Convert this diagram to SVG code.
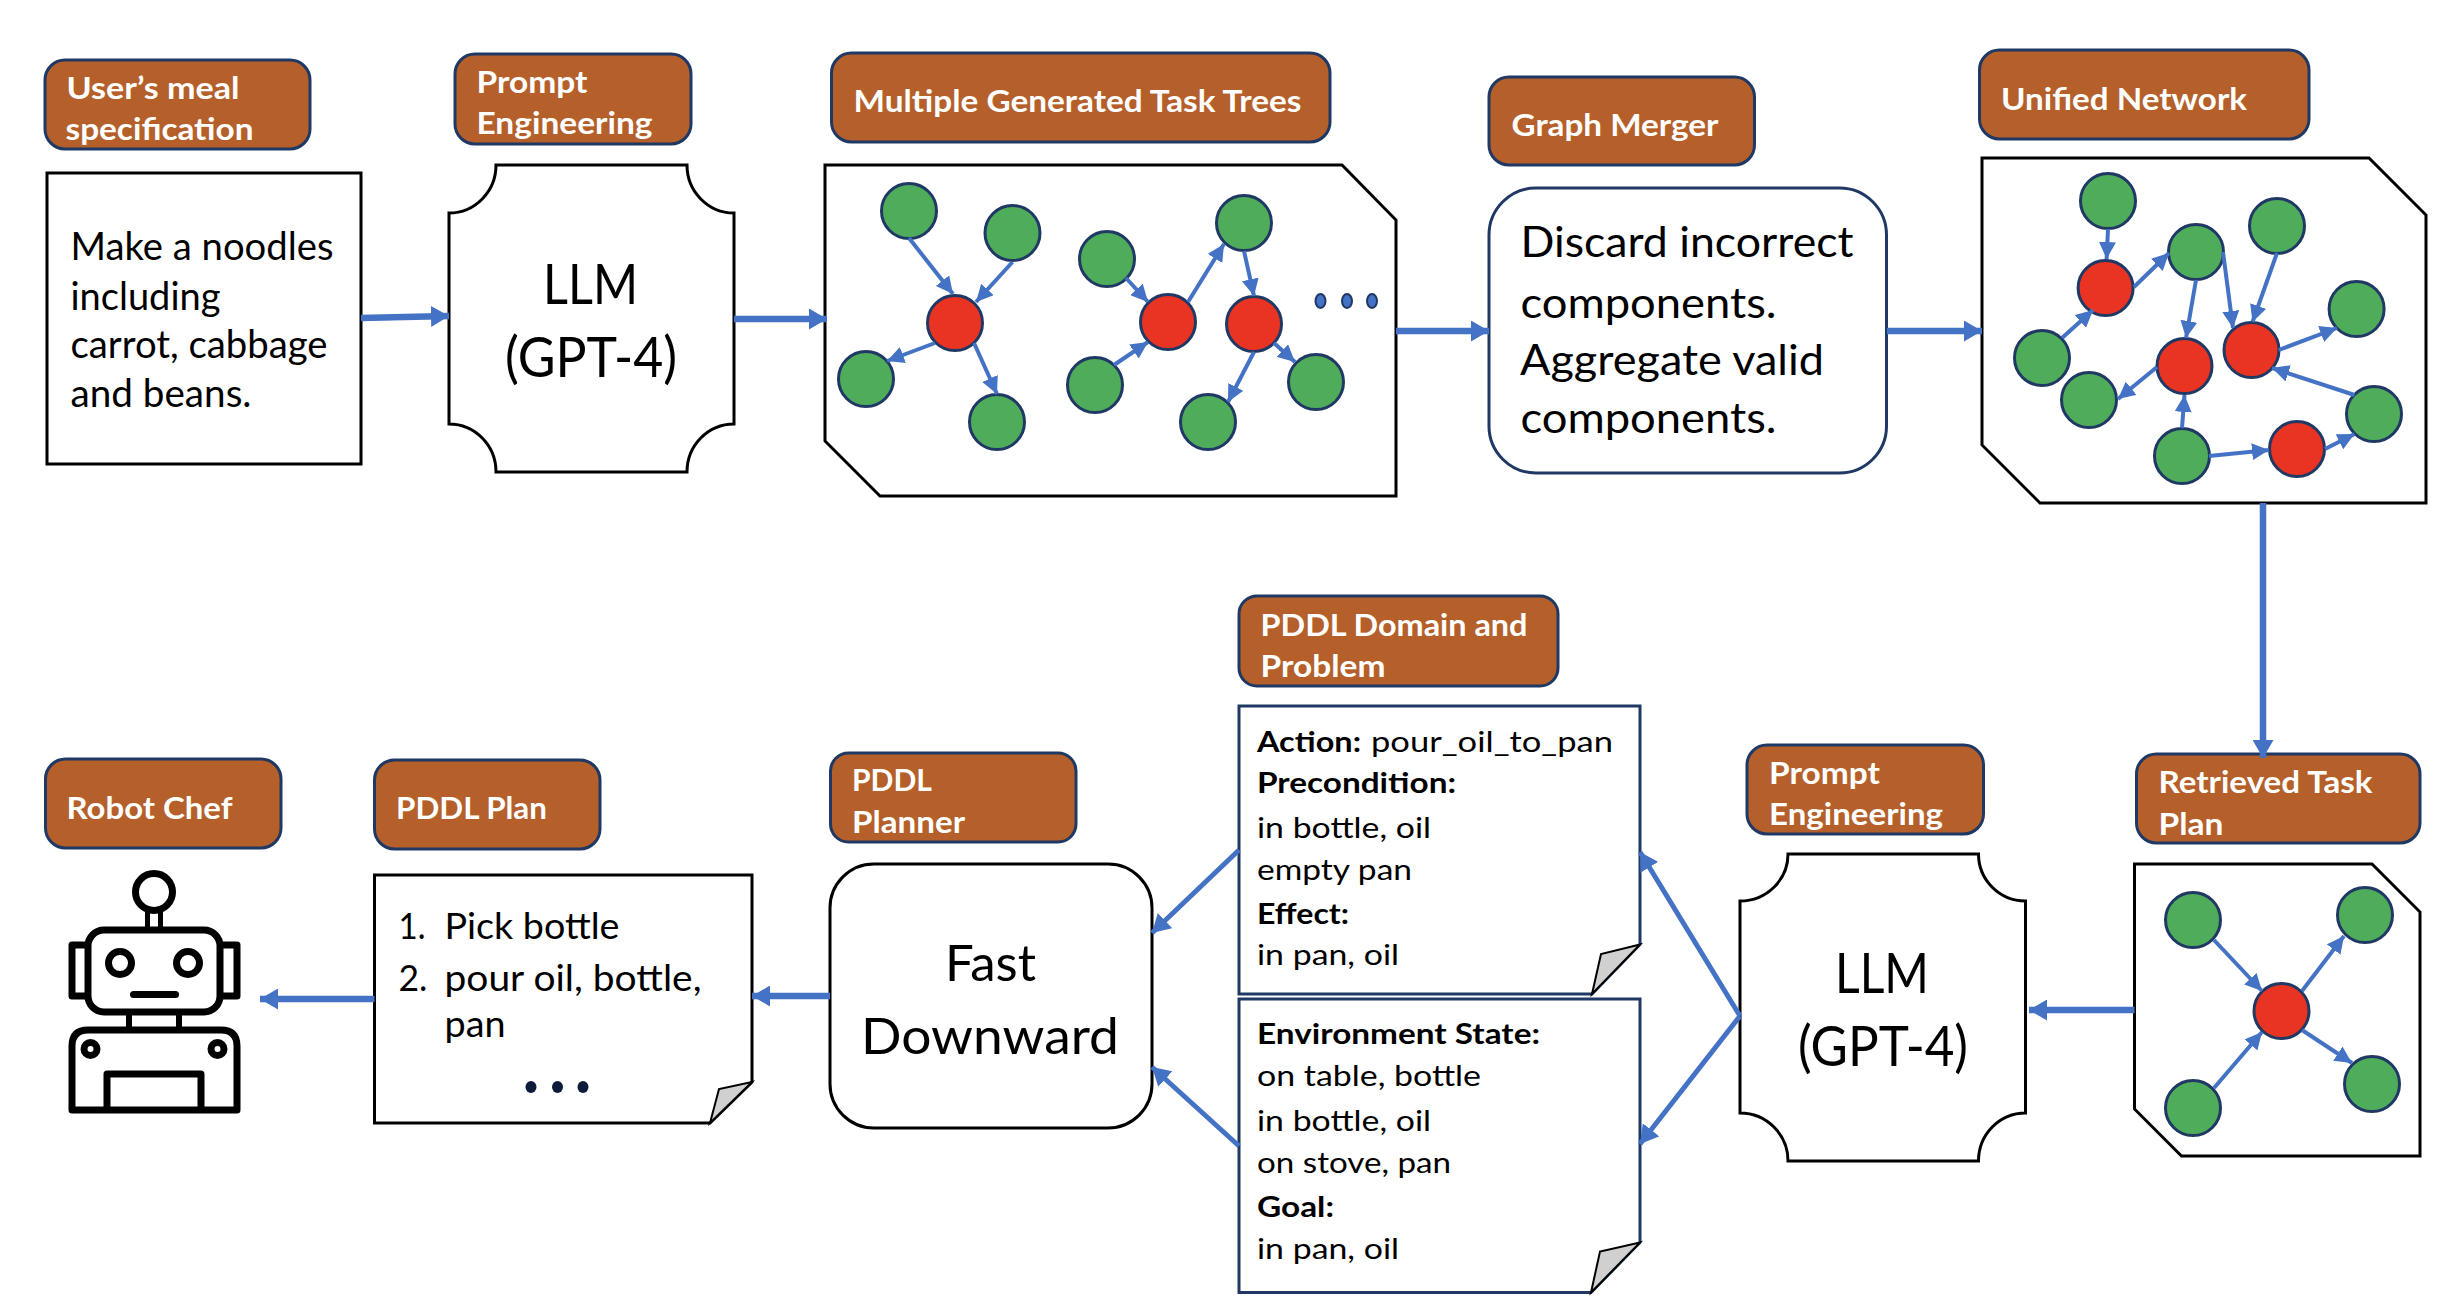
<svg xmlns="http://www.w3.org/2000/svg" width="2456" height="1312" viewBox="0 0 2456 1312">
<style>
text{font-family:"Lato","Carlito","Noto Sans",sans-serif;fill:#000;transform:translateY(1.5px)}
.lb{fill:#b5602a;stroke:#1f3864;stroke-width:3}
.lt{font-weight:700;font-size:31px;fill:#fff}
.box{fill:#fff;stroke:#000;stroke-width:3}
.nv{fill:#fff;stroke:#1f3864;stroke-width:3}
.g{fill:#4fac5b;stroke:#1f3864;stroke-width:3}
.r{fill:#ea3423;stroke:#1f3864;stroke-width:3}
.fold{fill:#d0d0d0;stroke:#000;stroke-width:2}
.d{fill:#4472c4;stroke:#1f3864;stroke-width:2}
.k{fill:#0d1b3a}
.t35{font-size:38px}.t33{font-size:36px}.t39{font-size:42px}.t46{font-size:51px}.t51{font-size:56px}
.t27{font-size:29px}.b{font-weight:700}
.rb{fill:none;stroke:#000;stroke-width:7}
.thin{fill:none;stroke:#4472c4;stroke-width:4;marker-end:url(#hs)}
.thick{fill:none;stroke:#4472c4;stroke-width:6.500;marker-end:url(#hl)}
.mid{fill:none;stroke:#4472c4;stroke-width:5;marker-end:url(#hl)}
</style>
<defs>
<marker id="hs" markerUnits="userSpaceOnUse" markerWidth="18" markerHeight="17" refX="17" refY="8.500" orient="auto"><path d="M0,0L17,8.500L0,17Z" fill="#4472c4"/></marker>
<marker id="hl" markerUnits="userSpaceOnUse" markerWidth="19" markerHeight="21" refX="18" refY="10.500" orient="auto"><path d="M0,0L18,10.500L0,21Z" fill="#4472c4"/></marker>
</defs>
<rect width="2456" height="1312" fill="#fff"/>

<g id="label-user"><rect class="lb" x="45" y="60" width="265" height="89" rx="20"/><text class="lt" x="66.500" y="97" textLength="173" lengthAdjust="spacingAndGlyphs">User’s meal</text><text class="lt" x="65.500" y="138" textLength="188" lengthAdjust="spacingAndGlyphs">specification</text></g>
<g id="input"><rect class="box" x="47" y="173" width="314" height="291"/><text class="t35" x="70.500" y="258" textLength="263" lengthAdjust="spacingAndGlyphs">Make a noodles</text><text class="t35" x="70.500" y="308" textLength="150" lengthAdjust="spacingAndGlyphs">including</text><text class="t35" x="70.500" y="356" textLength="257" lengthAdjust="spacingAndGlyphs">carrot, cabbage</text><text class="t35" x="70.500" y="405" textLength="181" lengthAdjust="spacingAndGlyphs">and beans.</text></g>

<g id="label-prompt1"><rect class="lb" x="455" y="54" width="236" height="90" rx="20"/><text class="lt" x="476.500" y="91" textLength="111" lengthAdjust="spacingAndGlyphs">Prompt</text><text class="lt" x="476.500" y="132" textLength="176" lengthAdjust="spacingAndGlyphs">Engineering</text></g>
<g id="llm1"><path class="box" d="M496,165H687A47,48 0 0 0 734,213V424A47,48 0 0 0 687,472H496A47,48 0 0 0 449,424V213A47,48 0 0 0 496,165Z"/><text class="t51" x="543" y="302" textLength="95" lengthAdjust="spacingAndGlyphs">LLM</text><text class="t51" x="505" y="375" textLength="172" lengthAdjust="spacingAndGlyphs">(GPT-4)</text></g>

<g id="label-trees"><rect class="lb" x="831.500" y="53" width="498.500" height="89" rx="20"/><text class="lt" x="853.500" y="110" textLength="448" lengthAdjust="spacingAndGlyphs">Multiple Generated Task Trees</text></g>
<g id="trees"><path class="box" d="M825,165H1342L1396,220V496H880L825,441Z"/>
<circle class="g" cx="909" cy="211" r="27.500"/><circle class="g" cx="1012.500" cy="233" r="27.500"/><circle class="r" cx="955" cy="323" r="27.500"/><circle class="g" cx="866" cy="379" r="27.500"/><circle class="g" cx="997" cy="422" r="27.500"/><circle class="g" cx="1107" cy="259" r="27.500"/><circle class="r" cx="1168" cy="322" r="27.500"/><circle class="g" cx="1244" cy="223" r="27.500"/><circle class="r" cx="1254" cy="324" r="27.500"/><circle class="g" cx="1095" cy="385" r="27.500"/><circle class="g" cx="1316" cy="382" r="27.500"/><circle class="g" cx="1208" cy="422" r="27.500"/>
<ellipse class="d" cx="1320.500" cy="301" rx="5" ry="7"/><ellipse class="d" cx="1347" cy="301" rx="5" ry="7"/><ellipse class="d" cx="1372" cy="301" rx="5" ry="7"/></g>

<g id="label-merger"><rect class="lb" x="1489" y="77" width="265.500" height="88" rx="20"/><text class="lt" x="1511.500" y="134" textLength="207" lengthAdjust="spacingAndGlyphs">Graph Merger</text></g>
<g id="merger"><rect class="nv" x="1489" y="188" width="397.500" height="285" rx="47"/><text class="t39" x="1520.500" y="255" textLength="333" lengthAdjust="spacingAndGlyphs">Discard incorrect</text><text class="t39" x="1520.500" y="316" textLength="256" lengthAdjust="spacingAndGlyphs">components.</text><text class="t39" x="1520" y="373" textLength="304" lengthAdjust="spacingAndGlyphs">Aggregate valid</text><text class="t39" x="1520.500" y="431" textLength="256" lengthAdjust="spacingAndGlyphs">components.</text></g>

<g id="label-unified"><rect class="lb" x="1979.500" y="50" width="329.500" height="89" rx="20"/><text class="lt" x="2001" y="108" textLength="246" lengthAdjust="spacingAndGlyphs">Unified Network</text></g>
<g id="unified"><path class="box" d="M1982,158H2369L2426,215V503H2040L1982,445Z"/>
<circle class="g" cx="2108" cy="201" r="27.500"/><circle class="r" cx="2105.600" cy="288" r="27.500"/><circle class="g" cx="2196" cy="252" r="27.500"/><circle class="g" cx="2277" cy="226" r="27.500"/><circle class="g" cx="2356.600" cy="309" r="27.500"/><circle class="r" cx="2251.500" cy="350" r="27.500"/><circle class="r" cx="2184.500" cy="366" r="27.500"/><circle class="g" cx="2042" cy="358" r="27.500"/><circle class="g" cx="2089" cy="400" r="27.500"/><circle class="g" cx="2374" cy="414" r="27.500"/><circle class="r" cx="2297" cy="449" r="27.500"/><circle class="g" cx="2182" cy="456" r="27.500"/></g>

<g id="label-retrieved"><rect class="lb" x="2136.500" y="754" width="283.500" height="89" rx="20"/><text class="lt" x="2158.500" y="791" textLength="214" lengthAdjust="spacingAndGlyphs">Retrieved Task</text><text class="lt" x="2158.500" y="833" textLength="65" lengthAdjust="spacingAndGlyphs">Plan</text></g>
<g id="retrieved"><path class="box" d="M2134.500,864H2372L2420,912V1156H2181.500L2134.500,1109Z"/>
<circle class="g" cx="2193" cy="920" r="27.500"/><circle class="g" cx="2365" cy="915" r="27.500"/><circle class="r" cx="2281.500" cy="1011" r="27.500"/><circle class="g" cx="2193" cy="1108" r="27.500"/><circle class="g" cx="2372" cy="1084" r="27.500"/></g>

<g id="label-prompt2"><rect class="lb" x="1747" y="745" width="236.500" height="89" rx="20"/><text class="lt" x="1769" y="782" textLength="111" lengthAdjust="spacingAndGlyphs">Prompt</text><text class="lt" x="1769" y="823" textLength="174" lengthAdjust="spacingAndGlyphs">Engineering</text></g>
<g id="llm2"><path class="box" d="M1788,854H1978.500A47,47 0 0 0 2025.500,901V1113A47,48 0 0 0 1978.500,1161H1788A48,48 0 0 0 1740,1113V901A48,47 0 0 0 1788,854Z"/><text class="t51" x="1835" y="991" textLength="94" lengthAdjust="spacingAndGlyphs">LLM</text><text class="t51" x="1798" y="1064" textLength="170" lengthAdjust="spacingAndGlyphs">(GPT-4)</text></g>

<g id="label-domain"><rect class="lb" x="1239" y="596" width="319" height="90" rx="18"/><text class="lt" x="1260.500" y="634" textLength="267" lengthAdjust="spacingAndGlyphs">PDDL Domain and</text><text class="lt" x="1260.500" y="675" textLength="125" lengthAdjust="spacingAndGlyphs">Problem</text></g>
<g id="domain"><path class="nv" d="M1239,706H1640V944.500L1592,994H1239Z"/><path class="fold" d="M1640,944.500L1601,954L1592,994Z"/>
<text class="t27 b" x="1257" y="750" textLength="104" lengthAdjust="spacingAndGlyphs">Action:</text><text class="t27" x="1371" y="750" textLength="242" lengthAdjust="spacingAndGlyphs">pour_oil_to_pan</text><text class="t27 b" x="1257" y="791" textLength="199" lengthAdjust="spacingAndGlyphs">Precondition:</text><text class="t27" x="1257" y="836" textLength="174" lengthAdjust="spacingAndGlyphs">in bottle, oil</text><text class="t27" x="1257" y="878" textLength="155" lengthAdjust="spacingAndGlyphs">empty pan</text><text class="t27 b" x="1257" y="922" textLength="92" lengthAdjust="spacingAndGlyphs">Effect:</text><text class="t27" x="1257" y="963" textLength="142" lengthAdjust="spacingAndGlyphs">in pan, oil</text></g>
<g id="state"><path class="nv" d="M1239,999H1640V1242.500L1591,1292.500H1239Z"/><path class="fold" d="M1640,1242.500L1600,1251.500L1591,1292.500Z"/>
<text class="t27 b" x="1257" y="1042" textLength="283" lengthAdjust="spacingAndGlyphs">Environment State:</text><text class="t27" x="1257" y="1084" textLength="224" lengthAdjust="spacingAndGlyphs">on table, bottle</text><text class="t27" x="1257" y="1129" textLength="174" lengthAdjust="spacingAndGlyphs">in bottle, oil</text><text class="t27" x="1257" y="1171" textLength="194" lengthAdjust="spacingAndGlyphs">on stove, pan</text><text class="t27 b" x="1257" y="1215" textLength="77" lengthAdjust="spacingAndGlyphs">Goal:</text><text class="t27" x="1257" y="1257" textLength="142" lengthAdjust="spacingAndGlyphs">in pan, oil</text></g>

<g id="label-planner"><rect class="lb" x="830.500" y="753" width="245.500" height="89" rx="18"/><text class="lt" x="852" y="789" textLength="80" lengthAdjust="spacingAndGlyphs">PDDL</text><text class="lt" x="852" y="831" textLength="113" lengthAdjust="spacingAndGlyphs">Planner</text></g>
<g id="planner"><rect class="box" x="830" y="864" width="322" height="264" rx="44"/><text class="t46" x="945" y="979" textLength="91" lengthAdjust="spacingAndGlyphs">Fast</text><text class="t46" x="861" y="1052" textLength="258" lengthAdjust="spacingAndGlyphs">Downward</text></g>

<g id="label-plan"><rect class="lb" x="374.500" y="760" width="225.500" height="89" rx="20"/><text class="lt" x="396" y="817" textLength="151" lengthAdjust="spacingAndGlyphs">PDDL Plan</text></g>
<g id="plan"><path class="box" d="M374.500,875H752V1082L710,1123H374.500Z"/><path class="fold" d="M752,1082L719,1089L710,1123Z"/>
<text class="t33" x="398.500" y="937" textLength="27" lengthAdjust="spacingAndGlyphs">1.</text><text class="t33" x="444.500" y="937" textLength="175" lengthAdjust="spacingAndGlyphs">Pick bottle</text><text class="t33" x="398.500" y="989" textLength="29" lengthAdjust="spacingAndGlyphs">2.</text><text class="t33" x="444.500" y="989" textLength="257" lengthAdjust="spacingAndGlyphs">pour oil, bottle,</text><text class="t33" x="444.500" y="1035" textLength="61" lengthAdjust="spacingAndGlyphs">pan</text>
<ellipse class="k" cx="531" cy="1087" rx="5.500" ry="6"/><ellipse class="k" cx="557.500" cy="1087" rx="5.500" ry="6"/><ellipse class="k" cx="583" cy="1087" rx="5.500" ry="6"/></g>

<g id="label-robot"><rect class="lb" x="45.500" y="759" width="235.500" height="89" rx="20"/><text class="lt" x="66.500" y="817" textLength="166" lengthAdjust="spacingAndGlyphs">Robot Chef</text></g>
<g id="robot">
<circle class="rb" cx="154" cy="892" r="18.500"/>
<path class="rb" style="stroke-width:5" d="M147.500,911V928M160.500,911V928"/>
<rect class="rb" x="88" y="930" width="132" height="82" rx="16"/>
<path class="rb" stroke-linejoin="round" d="M86,945H72V996H86M222,945H237V996H222"/>
<circle class="rb" cx="120" cy="963" r="11.500"/><circle class="rb" cx="188" cy="963" r="11.500"/>
<rect x="130" y="991" width="49" height="7" rx="3.500" fill="#000"/>
<path class="rb" style="stroke-width:6" d="M129,1015V1027M179,1015V1027"/>
<path class="rb" stroke-linejoin="round" d="M72,1110V1046Q72,1030 88,1030H221Q237,1030 237,1046V1110Z"/>
<circle class="rb" cx="90.500" cy="1049" r="6.500"/><circle class="rb" cx="217.500" cy="1049" r="6.500"/>
<path class="rb" stroke-linejoin="round" d="M107,1110V1074H201V1110"/>
</g>

<g id="connectors">
<path class="thick" d="M361,318L449,316"/>
<path class="thick" d="M734,319H827"/>
<path class="thick" d="M1396,331H1489"/>
<path class="thick" d="M1887,331H1982"/>
<path class="thick" d="M2263,503V758"/>
<path class="thick" d="M2134.500,1010H2029"/>
<path class="mid" d="M1740,1016L1640,852"/>
<path class="mid" d="M1740,1016L1640,1144"/>
<path class="mid" d="M1239,850L1152,933"/>
<path class="mid" d="M1239,1146L1152,1067"/>
<path class="thick" d="M830,996H752"/>
<path class="thick" d="M374.500,999H260"/>
<path class="thin" d="M909,238L953,294"/><path class="thin" d="M1012.500,262L976,302"/><path class="thin" d="M935,343L887,361"/><path class="thin" d="M974,343L997,394"/>
<path class="thin" d="M1126,278L1148,302"/><path class="thin" d="M1114,365L1148,342"/><path class="thin" d="M1188,302L1224,244"/><path class="thin" d="M1244,251L1254,296"/><path class="thin" d="M1274,343L1295,362"/><path class="thin" d="M1254,352L1228,402"/>
<path class="thin" d="M2108,229L2106.600,259"/><path class="thin" d="M2134,287L2169,253"/><path class="thin" d="M2062,338L2093,310"/><path class="thin" d="M2196,280L2186,338"/><path class="thin" d="M2223,252L2233,328"/><path class="thin" d="M2277,253L2252.500,322"/><path class="thin" d="M2278.700,350L2337,328"/><path class="thin" d="M2354.500,395L2272,368"/><path class="thin" d="M2157,367L2118,399"/><path class="thin" d="M2182,428L2184.500,395"/><path class="thin" d="M2209,456L2269,450"/><path class="thin" d="M2325,449L2354.500,434"/>
<path class="thin" d="M2214,940L2262,991"/><path class="thin" d="M2302,991L2344,936"/><path class="thin" d="M2214,1088L2262,1032"/><path class="thin" d="M2302,1030L2352,1063"/>
</g>
</svg>
